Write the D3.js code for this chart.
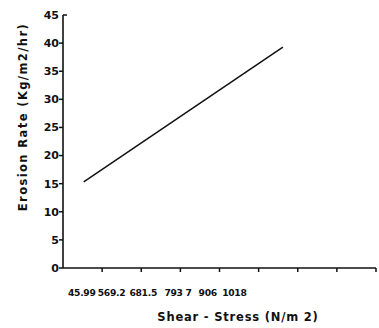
<!DOCTYPE html>
<html>
<head>
<meta charset="utf-8">
<script src="https://cdn.jsdelivr.net/npm/d3@7"></script>
<style>
  html, body { margin: 0; padding: 0; background: #fff; }
  text { font-family: "DejaVu Sans", sans-serif; fill: #111; }
</style>
</head>
<body>
<svg id="chart" width="379" height="328"></svg>
<script>
// stress labels and where they sit along the (unitless) x axis
const stressLabels = ['45.99', '569.2', '681.5', '793 7', '906', '1018'];
const stressLabelAt = [0.48, 1.24, 2.05, 2.94, 3.7, 4.38];
const xTicks = [1, 2, 3, 4, 5, 6, 7, 8];
const yTicks = [0, 5, 10, 15, 20, 25, 30, 35, 40, 45];

// erosion rate line (x in axis units, y in Kg/m2/hr)
const lineX = [0.53, 5.62];
const lineY = [15.3, 39.3];

const svg = d3.select('#chart');
const x = d3.scaleLinear().domain([0, 8]).range([63, 376]);
const y = d3.scaleLinear().domain([0, 45]).range([268, 15]);

// x axis
svg.append('line')
  .attr('x1', x(0)).attr('x2', x(8))
  .attr('y1', y(0)).attr('y2', y(0))
  .attr('stroke', '#111').attr('stroke-width', 1.6);
svg.selectAll('.xtick').data(xTicks).join('line')
  .attr('x1', d => x(d)).attr('x2', d => x(d))
  .attr('y1', y(0)).attr('y2', y(0) + 4)
  .attr('stroke', '#111').attr('stroke-width', 1.5);
svg.selectAll('.xlab').data(stressLabels).join('text')
  .attr('x', (d, i) => x(stressLabelAt[i]))
  .attr('y', 296)
  .attr('text-anchor', 'middle')
  .attr('font-size', 9.2)
  .attr('font-weight', 'bold')
  .attr('letter-spacing', -0.3)
  .text(d => d);

// y axis
svg.append('line')
  .attr('x1', x(0)).attr('x2', x(0))
  .attr('y1', y(0)).attr('y2', y(45))
  .attr('stroke', '#111').attr('stroke-width', 1.6);
svg.selectAll('.ytick').data(yTicks).join('line')
  .attr('x1', d => d === 45 ? x(0) : x(0) - 4)
  .attr('x2', d => d === 45 ? x(0) + 4 : x(0))
  .attr('y1', d => y(d)).attr('y2', d => y(d))
  .attr('stroke', '#111').attr('stroke-width', 1.5);
svg.selectAll('.ylab').data(yTicks).join('text')
  .attr('x', x(0) - 4)
  .attr('y', d => y(d))
  .attr('dy', '0.35em')
  .attr('text-anchor', 'end')
  .attr('font-size', 11)
  .attr('font-weight', 'bold')
  .text(d => d);

// titles
svg.append('text')
  .attr('transform', 'translate(27,117) rotate(-90)')
  .attr('text-anchor', 'middle')
  .attr('font-size', 11.5)
  .attr('font-weight', 'bold')
  .attr('letter-spacing', 1.4)
  .text('Erosion Rate (Kg/m2/hr)');
svg.append('text')
  .attr('x', 238).attr('y', 321)
  .attr('text-anchor', 'middle')
  .attr('font-size', 11.5)
  .attr('font-weight', 'bold')
  .attr('letter-spacing', 0.8)
  .text('Shear - Stress (N/m 2)');

// data line
const pts = lineX.map((v, i) => [v, lineY[i]]);
svg.append('path')
  .datum(pts)
  .attr('d', d3.line().x(d => x(d[0])).y(d => y(d[1])))
  .attr('fill', 'none')
  .attr('stroke', '#111')
  .attr('stroke-width', 1.5);
</script>
</body>
</html>
